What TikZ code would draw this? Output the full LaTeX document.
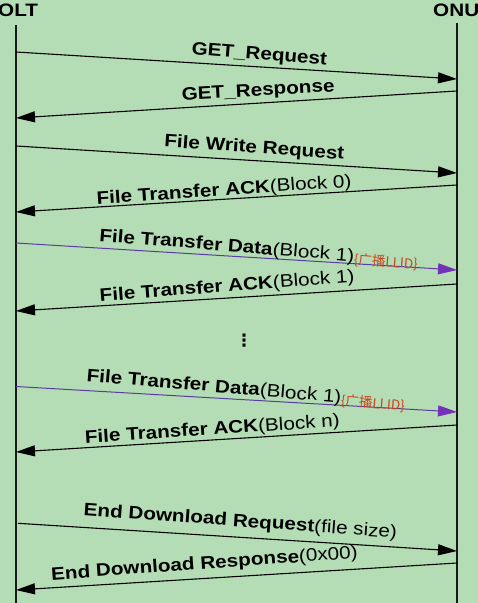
\documentclass[tikz,border=0pt]{standalone}
\usepackage{fontspec}
\setmainfont{Liberation Sans}[FakeStretch=1.15]
\newfontfamily\cjkfont{Noto Sans CJK SC}
\newfontfamily\symfont{DejaVu Sans}
\usetikzlibrary{arrows.meta}
\definecolor{bg}{RGB}{181,221,181}
\definecolor{purpleline}{RGB}{90,60,160}
\definecolor{purpletip}{RGB}{115,50,185}
\definecolor{llidred}{RGB}{200,70,30}
\newcommand\liftby[2]{\raisebox{#1pt}{#2}}
\newcommand\llid{\raisebox{-2.5pt}{\color{llidred}\cjkfont\fontsize{13.5}{15}\selectfont\{广播LLID\}}}
\begin{document}
\begin{tikzpicture}[x=1pt,y=1pt,
  lifeline/.style={line width=1.3pt,draw=black!90},
  msg/.style={line width=1.1pt,draw=black,-{Triangle[length=19pt,width=11pt]}},
  pmsg/.style={line width=1pt,draw=purpleline,-{Triangle[length=19pt,width=11pt,color=purpletip]}},
  lbl/.style={anchor=base west,inner sep=0pt,font=\fontsize{18}{21}\selectfont},
  actor/.style={anchor=base west,inner sep=0pt,font=\fontsize{18}{21}\selectfont\bfseries}]
\fill[bg] (0,0) rectangle (478,-603);
\useasboundingbox (0,0) rectangle (478,-603);
% actors
\node[actor] (olt) at (-2,-16.7) {OLT};
\node[actor] (onu) at (433,-16.7) {ONU};
\coordinate (oltTop) at (16,-25);
\coordinate (oltBot) at (16,-603);
\coordinate (onuTop) at (457,-23);
\coordinate (onuBot) at (457,-603);
\draw[lifeline] (oltTop) -- (oltBot);
\draw[lifeline] (onuTop) -- (onuBot);
% message end points
\coordinate (o1) at (16,-52);    \coordinate (n1) at (457,-79);
\coordinate (n2) at (457,-91);   \coordinate (o2) at (16,-118);
\coordinate (o3) at (16,-146);   \coordinate (n3) at (457,-173);
\coordinate (n4) at (457,-185);  \coordinate (o4) at (16,-212);
\coordinate (o5) at (16,-243);   \coordinate (n5) at (457,-270);
\coordinate (n6) at (457,-284);  \coordinate (o6) at (16,-311);
\coordinate (o8) at (16,-386.5); \coordinate (n8) at (457,-412);
\coordinate (n9) at (457,-425);  \coordinate (o9) at (16,-452);
\coordinate (o10) at (18,-523.3);\coordinate (n10) at (457,-551);
\coordinate (n11) at (457,-563); \coordinate (o11) at (16,-590);
% messages
\draw[msg] (o1) -- node[lbl,pos=0.3946,rotate=-4.7] (l1) {\liftby{8.6}{\textbf{GET\_Request}}} (n1);
\draw[msg] (n2) -- node[lbl,pos=0.6236,rotate=3.2] (l2) {\liftby{7.8}{\textbf{GET\_Response}}} (o2);
\draw[msg] (o3) -- node[lbl,pos=0.3333,rotate=-4] (l3) {\liftby{8.3}{\textbf{File Write Request}}} (n3);
\draw[msg] (n4) -- node[lbl,pos=0.817,rotate=4] (l4) {\liftby{2.5}{\textbf{File Transfer ACK}(Block 0)}} (o4);
\draw[pmsg] (o5) -- node[lbl,pos=0.186,rotate=-4.6] (l5) {\liftby{7}{\textbf{File Transfer Data}(Block 1)\llid}} (n5);
\draw[msg] (n6) -- node[lbl,pos=0.8095,rotate=4.5] (l6) {\liftby{4.2}{\textbf{File Transfer ACK}(Block 1)}} (o6);
\node[font=\symfont\bfseries\fontsize{17}{20}\selectfont,inner sep=0pt] (dots) at (244,-341) {⋮};
\draw[pmsg] (o8) -- node[lbl,pos=0.1565,rotate=-4.9] (l8) {\liftby{9.5}{\textbf{File Transfer Data}(Block 1)\llid}} (n8);
\draw[msg] (n9) -- node[lbl,pos=0.8435,rotate=3.8] (l9) {\liftby{4.5}{\textbf{File Transfer ACK}(Block n)}} (o9);
\draw[msg] (o10) -- node[lbl,pos=0.1458,rotate=-4.2] (l10) {\liftby{12.3}{\textbf{End Download Request}(file size)}} (n10);
\draw[msg] (n11) -- node[lbl,pos=0.919,rotate=4.1] (l11) {\liftby{7.8}{\textbf{End Download Response}(0x00)}} (o11);
\end{tikzpicture}
\end{document}
